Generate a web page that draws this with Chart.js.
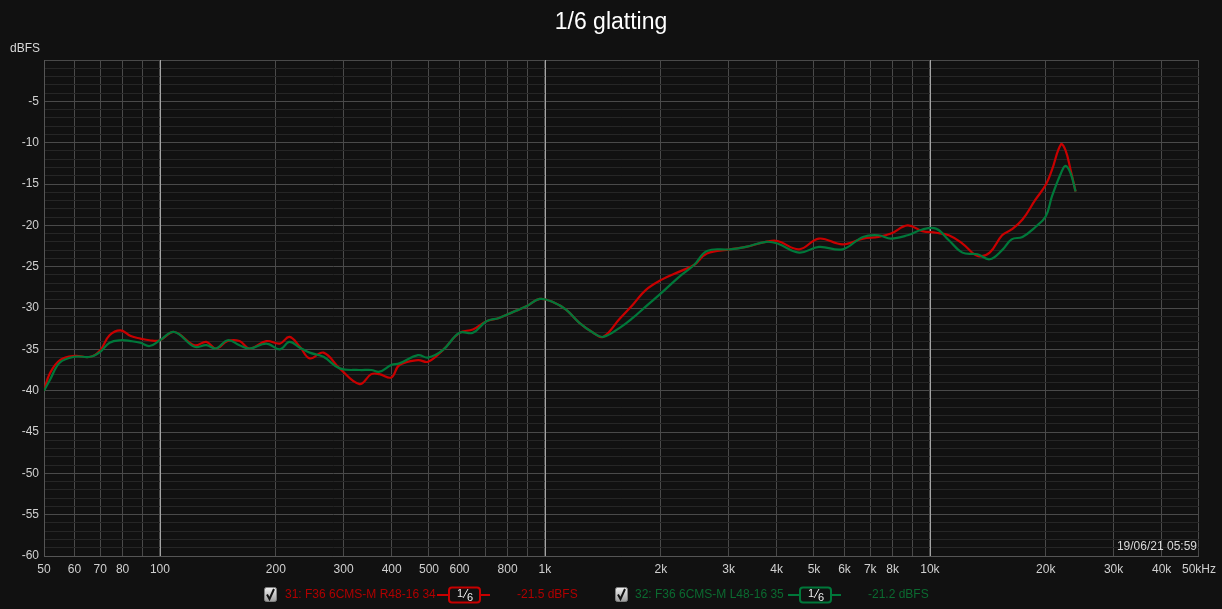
<!DOCTYPE html>
<html>
<head>
<meta charset="utf-8">
<script src="https://cdn.jsdelivr.net/npm/chart.js@4/dist/chart.umd.min.js"></script>
<style>
  html, body { margin: 0; padding: 0; background: #111111; }
  #wrap { position: relative; width: 1222px; height: 609px; }
</style>
</head>
<body>
<div id="wrap"><canvas id="fr"></canvas></div>
<script>
// frequency points (Hz) shared by both traces
const freqs = [50, 51.8, 55, 60, 66, 70, 74, 79, 84, 89, 94, 100, 109, 123, 132, 140, 150, 161, 171, 189,
  205, 217, 231, 245, 266, 293, 330, 354, 372, 399, 419, 468, 497, 543, 600, 650, 705, 760, 825, 895,
  970, 1052, 1135, 1229, 1335, 1416, 1564, 1692, 1830, 2005, 2236, 2440, 2636, 3025, 3327, 3750, 4020,
  4575, 5150, 5930, 6700, 7350, 7925, 8750, 9560, 10370, 11200, 12150, 13300, 14300, 15400, 16300,
  17400, 18800, 20000, 20750, 21900, 22500, 23200, 23900];

const redDb = [-40.0, -37.9, -36.3, -35.8, -35.9, -35.1, -33.3, -32.7, -33.4, -33.7, -33.9, -33.9, -32.9, -34.5,
  -34.1, -34.9, -34.0, -34.0, -34.9, -34.0, -34.3, -33.5, -34.7, -36.1, -35.4, -37.3, -39.2, -38.0, -38.0,
  -38.4, -36.9, -36.3, -36.5, -35.1, -33.0, -32.6, -31.6, -31.2, -30.5, -29.8, -28.9, -29.3, -30.2, -31.8,
  -33.0, -33.5, -31.3, -29.6, -27.8, -26.6, -25.6, -24.8, -23.4, -22.9, -22.6, -22.0, -21.9, -22.9, -21.6,
  -22.3, -21.6, -21.4, -21.0, -20.0, -20.7, -20.9, -21.2, -22.2, -23.7, -23.3, -21.2, -20.5, -19.3, -16.9,
  -15.1, -13.3, -10.2, -10.9, -13.3, -15.9];

const greenDb = [-40.0, -38.7, -36.6, -35.9, -35.9, -35.3, -34.2, -33.9, -34.0, -34.2, -34.6, -33.9, -32.9, -34.7,
  -34.5, -34.9, -33.9, -34.5, -34.9, -34.3, -35.0, -34.1, -34.8, -35.4, -35.9, -37.3, -37.5, -37.5, -37.7,
  -36.9, -36.7, -35.7, -36.0, -35.1, -33.0, -33.0, -31.6, -31.2, -30.5, -29.8, -28.9, -29.3, -30.2, -31.8,
  -33.0, -33.5, -32.4, -31.2, -29.8, -28.2, -26.2, -24.8, -23.1, -22.9, -22.6, -22.0, -22.2, -23.3, -22.6,
  -22.9, -21.4, -21.2, -21.6, -21.2, -20.5, -20.4, -21.8, -23.3, -23.5, -24.1, -23.0, -21.7, -21.4, -20.2,
  -18.9, -16.5, -13.7, -12.8, -13.7, -15.9];

const xTickValues = [50, 60, 70, 80, 90, 100, 200, 300, 400, 500, 600, 700, 800, 900, 1000,
  2000, 3000, 4000, 5000, 6000, 7000, 8000, 9000, 10000, 20000, 30000, 40000, 50000];
const xTickLabels = ["50", "60", "70", "80", "", "100", "200", "300", "400", "500", "600", "", "800", "", "1k",
  "2k", "3k", "4k", "5k", "6k", "7k", "8k", "", "10k", "20k", "30k", "40k", "50kHz"];
const decadeLines = [100, 1000, 10000];

const seriesNames = ["31: F36 6CMS-M R48-16 34", "32: F36 6CMS-M L48-16 35"];
const seriesLevels = ["-21.5 dBFS", "-21.2 dBFS"];
const chartTitle = "1/6 glatting";
const stamp = "19/06/21 05:59";

const RED = "#c80000";
const GREEN = "#00783a";
const FONT = "'Liberation Sans', Arial, sans-serif";

function pts(vals) {
  return freqs.map((f, i) => ({ x: f, y: vals[i] }));
}

function drawCheckbox(ctx, x, y) {
  const g = ctx.createLinearGradient(0, y, 0, y + 14);
  g.addColorStop(0, "#f4f4f4");
  g.addColorStop(1, "#a0a0a0");
  ctx.fillStyle = g;
  ctx.strokeStyle = "#808080";
  ctx.lineWidth = 1;
  ctx.beginPath();
  ctx.roundRect(x + 0.5, y + 0.5, 12, 14, 2);
  ctx.fill();
  ctx.stroke();
  ctx.strokeStyle = "#111";
  ctx.lineWidth = 2;
  ctx.beginPath();
  ctx.moveTo(x + 3, y + 7.5);
  ctx.lineTo(x + 5.5, y + 12);
  ctx.lineTo(x + 10, y + 2);
  ctx.stroke();
}

function drawSmoothBadge(ctx, x, color) {
  const y = 595;
  ctx.strokeStyle = color;
  ctx.lineWidth = 2;
  ctx.beginPath();
  ctx.moveTo(x, y); ctx.lineTo(x + 12, y);
  ctx.moveTo(x + 43, y); ctx.lineTo(x + 53, y);
  ctx.stroke();
  ctx.beginPath();
  ctx.roundRect(x + 12, 587.5, 31, 15, 3);
  ctx.stroke();
  ctx.fillStyle = "#eeeeee";
  ctx.font = "11px " + FONT;
  ctx.textAlign = "left";
  ctx.textBaseline = "alphabetic";
  ctx.fillText("1", x + 20, 597);
  ctx.fillText("6", x + 30, 601);
  ctx.strokeStyle = "#eeeeee";
  ctx.lineWidth = 1;
  ctx.beginPath();
  ctx.moveTo(x + 26, 598); ctx.lineTo(x + 31, 589);
  ctx.stroke();
}

const overlay = {
  id: "overlay",
  beforeDatasetsDraw(chart) {
    // brighter decade lines, drawn over the horizontal grid
    const ctx = chart.ctx;
    const area = chart.chartArea;
    const xs = chart.scales.x;
    ctx.save();
    ctx.strokeStyle = "#a4a4a4";
    ctx.lineWidth = 1;
    decadeLines.forEach(f => {
      const px = Math.round(xs.getPixelForValue(f)) + 0.5;
      ctx.beginPath();
      ctx.moveTo(px, area.top);
      ctx.lineTo(px, area.bottom);
      ctx.stroke();
    });
    ctx.restore();
  },
  afterDraw(chart) {
    const ctx = chart.ctx;
    const area = chart.chartArea;
    ctx.save();
    ctx.fillStyle = "#ffffff";
    ctx.font = "23px " + FONT;
    ctx.textAlign = "center";
    ctx.textBaseline = "middle";
    ctx.fillText(chartTitle, 611, 23);

    ctx.fillStyle = "#d8d8d8";
    ctx.font = "12px " + FONT;
    ctx.textAlign = "left";
    ctx.fillText("dBFS", 10, 49);

    ctx.textAlign = "right";
    ctx.fillText(stamp, area.right - 2, area.bottom - 9);

    // legend
    const rows = [
      { cb: 264, text: 285, badge: 437, level: 517, color: "#b00000", line: RED },
      { cb: 615, text: 635, badge: 788, level: 868, color: "#0b6a30", line: GREEN }
    ];
    rows.forEach((r, i) => {
      drawCheckbox(ctx, r.cb, 587);
      ctx.fillStyle = r.color;
      ctx.font = "12px " + FONT;
      ctx.textAlign = "left";
      ctx.textBaseline = "middle";
      ctx.fillText(seriesNames[i], r.text, 595);
      ctx.fillText(seriesLevels[i], r.level, 595);
      drawSmoothBadge(ctx, r.badge, r.line);
    });
    ctx.restore();
  }
};

new Chart(document.getElementById("fr"), {
  type: "line",
  data: {
    datasets: [
      {
        label: seriesNames[0],
        data: pts(redDb),
        borderColor: RED,
        borderWidth: 2.2,
        pointRadius: 0,
        tension: 0.4,
        fill: false,
        order: 1
      },
      {
        label: seriesNames[1],
        data: pts(greenDb),
        borderColor: GREEN,
        borderWidth: 2.2,
        pointRadius: 0,
        tension: 0.4,
        fill: false,
        order: 0
      }
    ]
  },
  options: {
    responsive: true,
    maintainAspectRatio: false,
    animation: false,
    layout: { padding: { top: 60, right: 19, left: 0, bottom: 0 } },
    plugins: {
      legend: { display: false },
      title: { display: false },
      tooltip: { enabled: false }
    },
    scales: {
      x: {
        type: "logarithmic",
        min: 50,
        max: 50000,
        afterBuildTicks: (scale) => {
          scale.ticks = xTickValues.map(v => ({ value: v }));
        },
        afterFit: (scale) => { scale.height = 53; },
        grid: {
          drawTicks: false,
          color: "#4a4a4a"
        },
        border: { color: "#555555" },
        ticks: {
          autoSkip: false,
          maxRotation: 0,
          padding: 6,
          color: "#d0d0d0",
          font: { size: 12, family: FONT },
          callback: (v) => {
            const i = xTickValues.indexOf(v);
            return i >= 0 ? xTickLabels[i] : "";
          }
        }
      },
      y: {
        type: "linear",
        min: -60,
        max: 0,
        afterFit: (scale) => { scale.width = 44; },
        grid: {
          drawTicks: false,
          color: (c) => (c.tick && c.tick.value % 5 === 0) ? "#4a4a4a" : "#262626"
        },
        border: { color: "#555555" },
        ticks: {
          stepSize: 1,
          autoSkip: false,
          padding: 5,
          color: "#d0d0d0",
          font: { size: 12, family: FONT },
          callback: (v) => (v % 5 === 0 && v !== 0) ? String(v) : ""
        }
      }
    }
  },
  plugins: [overlay]
});
</script>
</body>
</html>
